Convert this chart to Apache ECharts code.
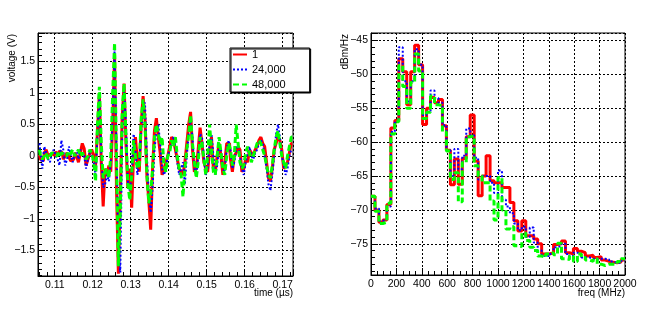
<!DOCTYPE html>
<html><head><meta charset="utf-8">
<script src="https://cdn.jsdelivr.net/npm/echarts@6/dist/echarts.min.js"></script>
<style>html,body{margin:0;padding:0;background:#fff}#c{width:664px;height:309px}</style>
</head><body><div id="c"></div>
<script>
const seriesNames = ['1', '24,000', '48,000'];
const seriesColors = ['#ff0000', '#0000ff', '#00ff00'];

const timeUs = [
0.1060,0.1065,0.1070,0.1075,0.1080,0.1085,0.1090,0.1095,0.1100,0.1105,
0.1110,0.1115,0.1120,0.1125,0.1130,0.1135,0.1140,0.1145,0.1150,0.1155,
0.1160,0.1165,0.1170,0.1175,0.1180,0.1185,0.1190,0.1195,0.1200,0.1205,
0.1210,0.1215,0.1220,0.1225,0.1230,0.1235,0.1240,0.1245,0.1250,0.1255,
0.1260,0.1265,0.1270,0.1275,0.1280,0.1285,0.1290,0.1295,0.1300,0.1305,
0.1310,0.1315,0.1320,0.1325,0.1330,0.1335,0.1340,0.1345,0.1350,0.1355,
0.1360,0.1365,0.1370,0.1375,0.1380,0.1385,0.1390,0.1395,0.1400,0.1405,
0.1410,0.1415,0.1420,0.1425,0.1430,0.1435,0.1440,0.1445,0.1450,0.1455,
0.1460,0.1465,0.1470,0.1475,0.1480,0.1485,0.1490,0.1495,0.1500,0.1505,
0.1510,0.1515,0.1520,0.1525,0.1530,0.1535,0.1540,0.1545,0.1550,0.1555,
0.1560,0.1565,0.1570,0.1575,0.1580,0.1585,0.1590,0.1595,0.1600,0.1605,
0.1610,0.1615,0.1620,0.1625,0.1630,0.1635,0.1640,0.1645,0.1650,0.1655,
0.1660,0.1665,0.1670,0.1675,0.1680,0.1685,0.1690,0.1695,0.1700,0.1705,
0.1710,0.1715,0.1720,0.1725];

const voltRed = [
0.02,-0.05,-0.08,0.05,0.1,0.0,0.03,0.05,0.0,0.06,
0.03,0.08,0.05,-0.05,0.0,0.05,-0.02,-0.08,-0.05,0.05,
0.0,-0.1,0.05,0.2,0.12,-0.15,-0.05,0.05,0.1,0.0,
-0.15,0.4,1.0,-0.1,-0.8,-0.2,-0.3,-0.15,-0.25,0.5,
1.6,-0.5,-1.87,-0.6,0.6,1.15,0.2,-0.5,-0.2,-0.82,
0.0,0.3,-0.1,-0.25,0.5,0.95,0.6,-0.3,-0.7,-1.17,
-0.2,0.4,0.6,0.3,0.05,-0.3,-0.2,-0.1,0.0,0.15,
0.3,0.25,0.1,-0.05,-0.2,-0.25,-0.3,-0.1,0.2,0.5,
0.7,0.1,-0.25,-0.2,0.1,0.45,0.2,-0.1,-0.2,-0.25,
0.1,0.3,-0.2,-0.25,0.0,0.2,0.0,-0.3,-0.1,0.2,
0.2,-0.05,-0.25,0.0,0.05,0.15,0.1,-0.25,-0.2,-0.05,
-0.1,0.1,0.05,0.0,0.1,0.15,0.25,0.3,0.2,0.15,
-0.1,-0.35,-0.4,-0.2,0.1,0.2,0.3,0.25,0.1,-0.2,
-0.15,-0.1,0.05,0.2];

const voltBlue = [
0.2,0.05,-0.2,0.15,0.05,-0.05,-0.1,0.05,0.1,0.0,
-0.05,-0.15,0.25,0.1,-0.15,-0.05,0.15,0.0,-0.1,0.05,
0.05,-0.05,0.1,0.05,0.0,-0.2,-0.05,0.05,0.0,-0.1,
-0.3,0.3,0.9,0.0,-0.5,-0.45,-0.3,-0.4,-0.1,0.6,
1.7,0.2,-1.4,-1.85,0.3,1.1,0.5,-0.4,-0.55,-0.3,
0.35,0.1,-0.3,-0.1,0.4,0.75,0.85,0.0,-0.6,-0.9,
-0.5,0.1,0.4,0.5,0.2,-0.2,-0.3,-0.2,0.0,0.1,
0.2,0.3,0.15,-0.1,-0.3,-0.2,-0.1,-0.45,0.0,0.35,
0.6,0.3,-0.2,-0.3,0.0,0.35,0.3,0.0,-0.3,-0.2,
0.2,0.35,0.0,-0.3,-0.15,0.15,0.1,-0.2,-0.25,0.1,
0.25,0.1,-0.2,-0.1,0.1,0.2,0.0,-0.2,-0.3,-0.1,
0.05,0.15,0.0,-0.05,0.05,0.1,0.2,0.25,0.2,0.0,
-0.2,-0.45,-0.55,-0.3,0.0,0.35,0.5,0.3,0.0,-0.15,
-0.3,-0.2,0.0,0.1];

const voltGreen = [
0.1,0.0,-0.05,0.0,0.05,-0.05,0.0,0.05,0.02,0.0,
0.05,0.0,0.05,0.02,0.0,0.05,0.0,0.05,0.1,0.0,
0.05,0.1,0.0,0.05,0.0,-0.05,0.0,0.1,0.05,-0.1,
-0.4,0.5,1.1,0.2,-0.35,-0.25,-0.2,-0.35,0.0,1.0,
1.8,0.0,-1.75,-0.9,0.7,1.15,0.3,-0.45,-0.7,-0.3,
0.25,0.0,-0.2,-0.15,0.6,0.9,0.5,-0.3,-0.75,-0.6,
-0.2,0.3,0.5,0.35,0.2,0.3,-0.15,-0.25,0.0,0.05,
0.25,0.15,0.3,0.0,-0.2,-0.3,-0.65,-0.2,0.1,0.35,
0.65,0.2,-0.1,-0.35,-0.1,0.3,0.2,-0.05,-0.3,0.0,
0.5,0.1,-0.25,-0.3,0.0,0.3,0.05,-0.2,-0.3,0.0,
0.2,0.1,-0.15,0.0,0.5,0.2,-0.1,-0.2,-0.15,0.05,
0.15,0.05,-0.1,0.0,0.1,0.2,0.25,0.2,0.1,0.0,
-0.15,-0.3,-0.35,-0.15,0.1,0.3,0.4,0.2,0.0,-0.1,
-0.2,0.0,0.15,0.3];

const freqEdges = [
0,31.25,62.5,93.75,125,156.25,187.5,218.75,250,281.25,312.5,343.75,375,406.25,437.5,468.75,
500,531.25,562.5,593.75,625,656.25,687.5,718.75,750,781.25,812.5,843.75,875,906.25,937.5,968.75,
1000,1031.25,1062.5,1093.75,1125,1156.25,1187.5,1218.75,1250,1281.25,1312.5,1343.75,1375,1406.25,1437.5,1468.75,
1500,1531.25,1562.5,1593.75,1625,1656.25,1687.5,1718.75,1750,1781.25,1812.5,1843.75,1875,1906.25,1937.5,1968.75,2000];

const psdRed = [
-68.0,-70.0,-71.8,-71.5,-69.2,-57.9,-56.8,-47.7,-49.6,-54.5,-49.6,-45.7,-48.6,-57.4,-55.0,-53.4,
-54.2,-53.7,-57.6,-61.2,-66.3,-62.5,-66.2,-62.4,-59.2,-56.0,-62.8,-67.9,-65.0,-62.0,-65.7,-66.0,
-66.0,-66.7,-66.7,-68.9,-71.6,-73.1,-71.6,-73.8,-73.8,-74.3,-75.0,-76.5,-76.5,-76.3,-75.1,-75.0,
-74.6,-76.3,-76.5,-75.7,-76.1,-76.3,-76.8,-76.7,-77.0,-76.9,-77.4,-77.6,-77.7,-77.8,-77.7,-77.4];

const psdBlue = [
-68.0,-69.8,-71.6,-71.4,-69.5,-58.5,-57.0,-46.0,-51.0,-54.0,-51.0,-46.3,-48.6,-56.0,-55.5,-52.4,
-53.5,-54.2,-57.5,-61.2,-65.0,-61.0,-64.0,-62.0,-58.0,-59.0,-62.3,-65.5,-65.0,-65.0,-66.0,-67.5,
-64.2,-68.5,-69.5,-70.5,-72.0,-73.0,-72.5,-74.0,-72.6,-74.8,-76.0,-76.8,-76.8,-76.5,-75.5,-75.3,
-75.0,-76.5,-76.8,-76.3,-76.5,-77.0,-77.0,-77.2,-77.3,-77.2,-77.2,-77.3,-77.6,-77.8,-77.8,-77.5];

const psdGreen = [
-68.0,-70.2,-72.0,-71.8,-69.0,-58.8,-57.0,-48.7,-51.8,-55.0,-51.2,-47.0,-49.5,-56.5,-55.6,-53.2,
-54.5,-54.6,-58.5,-61.3,-65.5,-64.5,-68.8,-63.0,-59.2,-59.1,-63.5,-65.0,-66.0,-66.0,-68.7,-71.5,
-65.2,-70.0,-72.8,-72.5,-75.3,-75.4,-73.4,-74.5,-75.5,-76.0,-76.8,-77.0,-76.5,-76.3,-76.6,-74.9,
-77.2,-77.3,-76.8,-77.6,-76.5,-77.0,-77.4,-77.6,-77.2,-78.0,-78.2,-78.0,-78.0,-78.0,-77.6,-77.2];

const FONT = 'Liberation Sans, Arial, Helvetica, sans-serif';
const lineTypes = ['solid', [2, 2], [6, 3]];
const lineWidths = [3, 2, 3];
const fmtMinus = v => String(+v.toFixed(4)).replace('-', '\u2212');

function axisCommon(extra) {
  return Object.assign({
    type: 'value',
    axisLine: { show: true, onZero: false, lineStyle: { color: '#000', width: 1 } },
    axisTick: { show: true, inside: true, length: 7, lineStyle: { color: '#000' } },
    minorTick: { show: true, length: 4, lineStyle: { color: '#000' } },
    splitLine: { show: true, lineStyle: { color: '#000', type: [2, 2], width: 1 } },
    axisLabel: { color: '#000', fontFamily: FONT, fontSize: 10.5, showMinLabel: false, showMaxLabel: false, formatter: fmtMinus }
  }, extra);
}

const volts = [voltRed, voltBlue, voltGreen];
const psds = [psdRed, psdBlue, psdGreen];

const series = [];
volts.forEach((arr, k) => {
  series.push({
    name: seriesNames[k], type: 'line', xAxisIndex: 0, yAxisIndex: 0,
    step: 'middle', symbol: 'none', animation: false,
    data: timeUs.map((t, i) => [t, arr[i]]),
    lineStyle: { color: seriesColors[k], width: lineWidths[k], type: lineTypes[k] },
    itemStyle: { color: seriesColors[k] }
  });
});
psds.forEach((arr, k) => {
  const d = arr.map((v, i) => [freqEdges[i], v]);
  d.push([freqEdges[freqEdges.length - 1], arr[arr.length - 1]]);
  series.push({
    name: seriesNames[k], type: 'line', xAxisIndex: 1, yAxisIndex: 1,
    step: 'end', symbol: 'none', animation: false,
    data: d,
    lineStyle: { color: seriesColors[k], width: lineWidths[k], type: lineTypes[k] },
    itemStyle: { color: seriesColors[k] }
  });
});

const chart = echarts.init(document.getElementById('c'), null, { renderer: 'canvas' });
chart.setOption({
  backgroundColor: '#fff',
  animation: false,
  grid: [
    { left: 38, top: 33, width: 255, height: 243, show: true, borderColor: '#000', borderWidth: 1, backgroundColor: 'transparent' },
    { left: 371, top: 33, width: 254, height: 242, show: true, borderColor: '#000', borderWidth: 1, backgroundColor: 'transparent' }
  ],
  xAxis: [
    axisCommon({ gridIndex: 0, min: 0.1056, max: 0.1727, splitNumber: 7, minorTick: { show: true, splitNumber: 5, length: 4, lineStyle: { color: '#000' } },
      axisLabel: { color: '#000', fontFamily: FONT, fontSize: 10.5, margin: 4, showMinLabel: false, showMaxLabel: false, formatter: fmtMinus } }),
    axisCommon({ gridIndex: 1, min: 0, max: 2000, interval: 200, minorTick: { show: true, splitNumber: 4, length: 4, lineStyle: { color: '#000' } },
      axisLabel: { color: '#000', fontFamily: FONT, fontSize: 10.5, margin: 4, showMinLabel: true, showMaxLabel: true, formatter: fmtMinus } })
  ],
  yAxis: [
    axisCommon({ gridIndex: 0, min: -1.906, max: 1.954, splitNumber: 8, minorTick: { show: true, splitNumber: 5, length: 4, lineStyle: { color: '#000' } },
      axisLabel: { color: '#000', fontFamily: FONT, fontSize: 10.5, margin: 3, showMinLabel: false, showMaxLabel: false, formatter: fmtMinus } }),
    axisCommon({ gridIndex: 1, min: -79.6, max: -43.9, splitNumber: 7, minorTick: { show: true, splitNumber: 5, length: 4, lineStyle: { color: '#000' } },
      axisLabel: { color: '#000', fontFamily: FONT, fontSize: 10.5, margin: 3, showMinLabel: false, showMaxLabel: false, formatter: fmtMinus } })
  ],
  legend: {
    data: seriesNames,
    orient: 'vertical', left: 230, top: 48,
    itemWidth: 14, itemHeight: 12, itemGap: 4,
    padding: [1, 24, 2, 2],
    backgroundColor: '#fff', borderColor: '#000', borderWidth: 1,
    shadowColor: '#000', shadowOffsetX: 1, shadowOffsetY: 1, shadowBlur: 0,
    itemStyle: { opacity: 0, borderWidth: 0 },
    textStyle: { color: '#000', fontFamily: FONT, fontSize: 11 },
    selectedMode: false
  },
  graphic: [
    { type: 'text', x: 12, y: 34, rotation: Math.PI / 2, style: { text: 'voltage (V)', fill: '#000', font: '10px ' + FONT, align: 'right', verticalAlign: 'middle' } },
    { type: 'text', x: 345, y: 34, rotation: Math.PI / 2, style: { text: 'dBm/Hz', fill: '#000', font: '10px ' + FONT, align: 'right', verticalAlign: 'middle' } },
    { type: 'text', x: 293, y: 298, style: { text: 'time (\u00b5s)', fill: '#000', font: '10px ' + FONT, align: 'right', verticalAlign: 'bottom' } },
    { type: 'text', x: 625, y: 298, style: { text: 'freq (MHz)', fill: '#000', font: '10px ' + FONT, align: 'right', verticalAlign: 'bottom' } }
  ],
  series: series
});
</script>
</body></html>
